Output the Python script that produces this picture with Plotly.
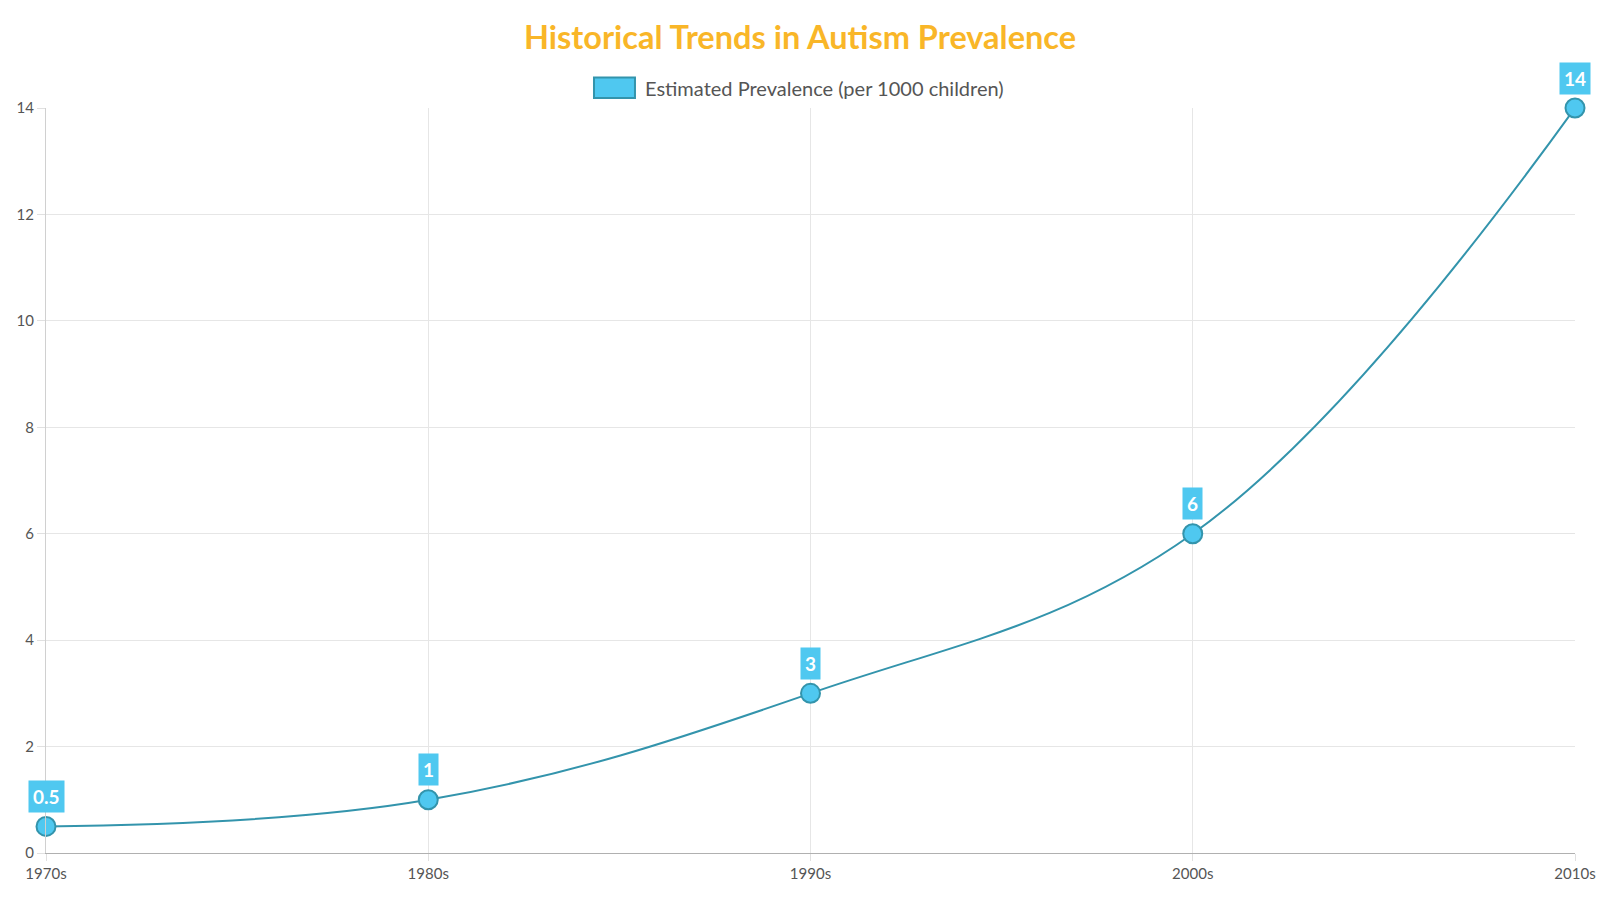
import plotly.graph_objects as go

decades = ["1970s", "1980s", "1990s", "2000s", "2010s"]
prevalence = [0.5, 1, 3, 6, 14]
label_texts = ["0.5", "1", "3", "6", "14"]
y_ticks = [0, 2, 4, 6, 8, 10, 12, 14]

LINE = "#3394AC"
FILL = "#4FC8F0"
FONT = "Lato"

fig = go.Figure()
fig.add_trace(go.Scatter(
    x=decades, y=prevalence, mode="lines+markers",
    line=dict(color=LINE, width=2, shape="spline", smoothing=1.1),
    marker=dict(size=19, color=FILL, line=dict(color=LINE, width=2)),
    cliponaxis=False, showlegend=False,
    name="Estimated Prevalence (per 1000 children)",
))

for d, v, t in zip(decades, prevalence, label_texts):
    fig.add_annotation(
        x=d, y=v, yshift=30, text="<b>%s</b>" % t, showarrow=False,
        font=dict(family=FONT, size=19, color="white"),
        bgcolor=FILL, borderpad=4,
    )

# legend swatch + text
fig.add_shape(type="rect", xref="paper", yref="paper",
              x0=0.3584, x1=0.3852, y0=1.0134, y1=1.0409,
              fillcolor=FILL, line=dict(color=LINE, width=2))
fig.add_annotation(xref="paper", yref="paper", x=0.3905, y=1.0275,
                   xanchor="left", yanchor="middle", showarrow=False,
                   text="Estimated Prevalence (per 1000 children)",
                   font=dict(family=FONT, size=20, color="#555555"))

fig.update_layout(
    width=1600, height=900,
    margin=dict(l=46, r=25, t=108, b=47),
    paper_bgcolor="white", plot_bgcolor="white",
    title=dict(text="<b>Historical Trends in Autism Prevalence</b>",
               x=0.5, xref="container", xanchor="center",
               y=1 - 38 / 900, yref="container", yanchor="middle",
               font=dict(family=FONT, size=32.5, color="#F9B628")),
    font=dict(family=FONT, color="#666666", size=15),
)
fig.update_xaxes(
    type="category", range=[0, 4], showgrid=True, gridcolor="#E6E6E6",
    showline=True, linecolor="#B0B0B0", linewidth=1, automargin=False,
    ticks="outside", ticklen=7, tickcolor="#E0E0E0",
    tickfont=dict(family=FONT, size=15, color="#555555"), zeroline=False,
)
fig.update_yaxes(
    range=[0, 14], tickvals=y_ticks, showgrid=True, gridcolor="#E6E6E6",
    showline=True, linecolor="#D0D0D0", linewidth=1, automargin=False,
    ticks="outside", ticklen=8, tickcolor="#E0E0E0",
    tickfont=dict(family=FONT, size=15, color="#555555"), zeroline=False,
)

fig.write_html("out.html")
